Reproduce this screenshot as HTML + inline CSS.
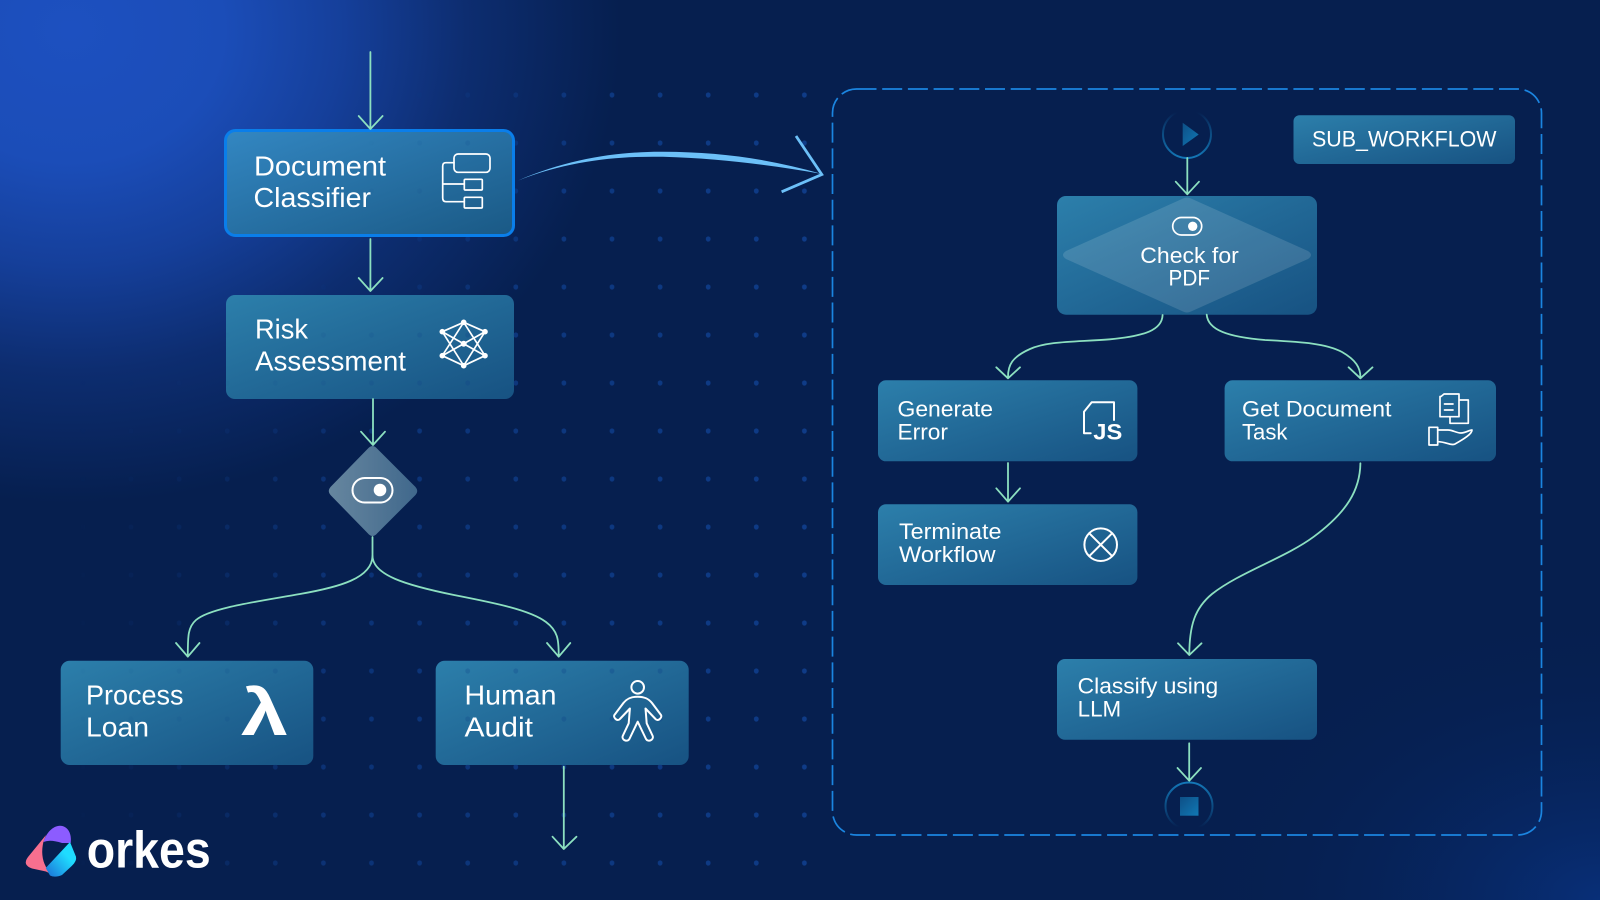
<!DOCTYPE html>
<html><head><meta charset="utf-8"><style>
html,body{margin:0;padding:0;width:1600px;height:900px;overflow:hidden;background:#061f4f}
svg{display:block;position:absolute;left:0;top:0}
text{font-family:"Liberation Sans",sans-serif;fill:#fff}
.a{font-size:28px;letter-spacing:0}
.b{font-size:22px}
.c{fill:none;stroke:#8ce0c0;stroke-width:1.8;stroke-linecap:round;stroke-linejoin:round}
.i{fill:none;stroke:#fff;stroke-width:1.7;stroke-linecap:round;stroke-linejoin:round}
</style></head><body>
<svg width="1600" height="900" viewBox="0 0 1600 900" xmlns="http://www.w3.org/2000/svg">
<defs>
<radialGradient id="bg1" gradientUnits="userSpaceOnUse" cx="70" cy="30" r="550" gradientTransform="translate(70 30) scale(1 .86) translate(-70 -30)">
<stop offset="0" stop-color="#1d50c0"/><stop offset=".28" stop-color="#1b4db8"/><stop offset=".5" stop-color="#153f9a"/><stop offset=".72" stop-color="#0d2d70"/><stop offset="1" stop-color="#061f4f"/></radialGradient>
<radialGradient id="bg2" gradientUnits="userSpaceOnUse" cx="1600" cy="900" r="420" gradientTransform="translate(1600 900) scale(1 .7) translate(-1600 -900)">
<stop offset="0" stop-color="#082f78"/><stop offset="1" stop-color="#061f4f" stop-opacity="0"/></radialGradient>
<linearGradient id="n" x1="0" y1="0" x2="1" y2="1"><stop offset="0" stop-color="#2c7fab"/><stop offset="1" stop-color="#175282"/></linearGradient>
<linearGradient id="n2" x1="0" y1="0" x2="1" y2="1"><stop offset="0" stop-color="#3387c2"/><stop offset="1" stop-color="#1a5985"/></linearGradient>
<linearGradient id="dg" x1="0" y1="0" x2="1" y2="0"><stop offset="0" stop-color="#66869f"/><stop offset="1" stop-color="#40688c"/></linearGradient>
<linearGradient id="pl" x1="0" y1="0" x2="0" y2="1"><stop offset=".05" stop-color="#1270ae" stop-opacity="0"/><stop offset=".5" stop-color="#0f5f98" stop-opacity=".7"/><stop offset="1" stop-color="#1478b8"/></linearGradient>
<linearGradient id="st" x1="0" y1="1" x2="0" y2="0"><stop offset=".05" stop-color="#1270ae" stop-opacity="0"/><stop offset=".5" stop-color="#0f5f98" stop-opacity=".7"/><stop offset="1" stop-color="#1478b8"/></linearGradient>
<linearGradient id="ic" x1="0" y1="0" x2="1" y2="1"><stop offset="0" stop-color="#0e4f86"/><stop offset="1" stop-color="#1078b4"/></linearGradient>
<linearGradient id="cy" x1="1" y1="0" x2="0" y2="1"><stop offset=".35" stop-color="#1fdcff"/><stop offset="1" stop-color="#1c6fd6"/></linearGradient>
<linearGradient id="fade" x1="0" y1="0" x2="1" y2="0"><stop offset="0" stop-color="#000"/><stop offset=".14" stop-color="#333"/><stop offset=".35" stop-color="#aaa"/><stop offset="1" stop-color="#fff"/></linearGradient>
<radialGradient id="hole" gradientUnits="userSpaceOnUse" cx="70" cy="30" r="520"><stop offset=".6" stop-color="#000"/><stop offset="1" stop-color="#000" stop-opacity="0"/></radialGradient>
<pattern id="dots" patternUnits="userSpaceOnUse" x="780.35" y="71" width="48.1" height="48"><ellipse cx="24.05" cy="24" rx="2.4" ry="2.6" fill="#0f3c88"/></pattern>
<mask id="m"><rect x="60" y="71" width="760" height="817" fill="url(#fade)"/><rect x="60" y="71" width="760" height="817" fill="url(#hole)"/></mask>
<clipPath id="cn"><rect x="226" y="295" width="288" height="104"/><rect x="60.7" y="660.7" width="252.6" height="104.3"/><rect x="435.7" y="660.7" width="253" height="104.3"/><rect x="225.5" y="130.5" width="288" height="105"/></clipPath>
</defs>
<rect width="1600" height="900" fill="#061f4f"/>
<rect width="800" height="640" fill="url(#bg1)"/>
<rect width="1600" height="900" fill="url(#bg2)"/>
<rect x="60" y="71" width="756" height="817" fill="url(#dots)" mask="url(#m)"/>

<!-- sub workflow border -->
<rect x="832.5" y="89" width="709" height="746" rx="24" fill="none" stroke="#1b85e0" stroke-width="1.7" stroke-dasharray="20 5.7"/>

<!-- nodes -->
<rect x="225.5" y="130.5" width="288" height="105" rx="10" fill="url(#n2)" stroke="#0a7eea" stroke-width="3"/>
<g fill="url(#n)">
<rect x="226" y="295" width="288" height="104" rx="9"/>
<rect x="60.7" y="660.7" width="252.6" height="104.3" rx="9"/>
<rect x="435.7" y="660.7" width="253" height="104.3" rx="9"/>
<rect x="1293.5" y="115.3" width="221.5" height="48.7" rx="6"/>
<rect x="1057" y="196" width="260" height="118.7" rx="9"/>
<rect x="878" y="380.3" width="259.4" height="81" rx="8"/>
<rect x="1224.6" y="380.3" width="271.4" height="81" rx="8"/>
<rect x="878" y="504.3" width="259.4" height="80.7" rx="8"/>
<rect x="1057" y="659" width="260" height="80.7" rx="8"/>
</g>
<g clip-path="url(#cn)" opacity=".3"><rect x="60" y="71" width="756" height="817" fill="url(#dots)" mask="url(#m)"/></g>
<path d="M1183 198.500Q1187 196.500 1191 198.500L1308 251Q1314 255 1308 259L1191 311.500Q1187 313.500 1183 311.500L1066 259Q1060 255 1066 251Z" fill="#fff" fill-opacity=".13"/>
<path d="M367.500 449Q372.500 443 377.500 449L415.500 487Q419 491 415.500 495L377.500 533Q372.500 539 367.500 533L330.500 495Q327 491 330.500 487Z" fill="url(#dg)"/>

<!-- start / end -->
<circle cx="1187" cy="134" r="24" fill="none" stroke="url(#pl)" stroke-width="2"/>
<path d="M1182.700 122.700L1198.700 134.500L1182.700 146Z" fill="url(#ic)"/>
<circle cx="1189" cy="806" r="23.500" fill="none" stroke="url(#st)" stroke-width="2"/>
<rect x="1180" y="797" width="18.500" height="18.700" fill="url(#ic)"/>

<!-- connectors -->
<g class="c">
<path d="M370.400 52L370.400 128M358.700 116L370.400 129L382.600 116"/>
<path d="M370.400 239L370.400 290M358.700 278L370.400 291L382.600 278"/>
<path d="M373 399L373 444M361 431.700L373 445L385 431.700"/>
<path d="M372.500 537L372.500 556C372 578 340 587 300 594C255 602 210 608 196 620C188 627 187.800 636 187.800 655M176 643L187.800 656.700L199.500 643"/>
<path d="M372.500 556C373 575 405 585 454 595C495 603 530 610 546 622C558 631 558.700 640 558.700 655M547 643L558.700 656.700L570.300 643"/>
<path d="M563.800 766.700L563.800 848M552.500 836.700L563.800 849L576.500 836.700"/>
<path d="M1187.300 158L1187.300 193M1175.700 181.700L1187.300 194.300L1199 181.700"/>
<path d="M1162.600 315C1162 330 1145 336 1110 339.300C1075 342 1048 341 1030 349C1012 357 1008 365 1008 377M996.300 367.300L1008 378.300L1020 367.300"/>
<path d="M1206.700 314.700C1208 330 1228 337 1265 340C1300 342 1325 343 1342 352C1356 360 1360.400 368 1360.400 377M1348.600 367.300L1360.400 378.300L1372.500 367.300"/>
<path d="M1008 463L1008 500M996.300 488.300L1008 501.700L1020 488.300"/>
<path d="M1360.400 463.300C1360 490 1347 512 1313.800 536.700C1285 558 1240 572 1212 594C1195 608 1189.500 625 1189.300 654M1178 643.300L1189.300 655L1201.500 643.300"/>
<path d="M1189.200 743.300L1189.200 779M1177.500 768L1189.200 780.700L1201 768"/>
</g>

<!-- blue arrow -->
<path d="M518 180.600C570 158 620 151.500 663 151.800C720 152 770 159 822 174C770 165 720 158.500 663 156.800C620 156 570 160 518 180.600Z" fill="#6cc0f8"/>
<path d="M796 136L821.800 174.500L781.600 191.800" fill="none" stroke="#6cc0f8" stroke-width="2.800" stroke-linejoin="miter"/>

<!-- labels -->
<g class="a">
<text x="254" y="175.500" textLength="132" lengthAdjust="spacingAndGlyphs">Document</text>
<text x="253.500" y="207" textLength="117.500" lengthAdjust="spacingAndGlyphs">Classifier</text>
<text x="255" y="338.700" textLength="53" lengthAdjust="spacingAndGlyphs">Risk</text>
<text x="255" y="370.700" textLength="151" lengthAdjust="spacingAndGlyphs">Assessment</text>
<text x="86" y="704.300" textLength="97.500" lengthAdjust="spacingAndGlyphs">Process</text>
<text x="86" y="736.700" textLength="63" lengthAdjust="spacingAndGlyphs">Loan</text>
<text x="464.500" y="704.300" textLength="92" lengthAdjust="spacingAndGlyphs">Human</text>
<text x="464.500" y="736.700" textLength="68.500" lengthAdjust="spacingAndGlyphs">Audit</text>
</g>
<g class="b">
<text x="1312" y="146.700" textLength="184.500" lengthAdjust="spacingAndGlyphs">SUB_WORKFLOW</text>
<text x="1140.300" y="263" textLength="98.500" lengthAdjust="spacingAndGlyphs">Check for</text>
<text x="1168.500" y="285.700" textLength="41.500" lengthAdjust="spacingAndGlyphs">PDF</text>
<text x="897.500" y="416.700" textLength="95.500" lengthAdjust="spacingAndGlyphs">Generate</text>
<text x="897.500" y="439.700" textLength="50.500" lengthAdjust="spacingAndGlyphs">Error</text>
<text x="1242" y="416.700" textLength="149.500" lengthAdjust="spacingAndGlyphs">Get Document</text>
<text x="1242" y="439.700" textLength="45.500" lengthAdjust="spacingAndGlyphs">Task</text>
<text x="899" y="539" textLength="102.500" lengthAdjust="spacingAndGlyphs">Terminate</text>
<text x="899" y="562" textLength="96.500" lengthAdjust="spacingAndGlyphs">Workflow</text>
<text x="1077.700" y="693.700" textLength="140.500" lengthAdjust="spacingAndGlyphs">Classify using</text>
<text x="1077.700" y="716.400" textLength="43.500" lengthAdjust="spacingAndGlyphs">LLM</text>
</g>

<!-- icons -->
<g class="i">
<rect x="454" y="154" width="36" height="18.300" rx="4"/>
<rect x="464.300" y="179.300" width="18" height="10.700" rx="1"/>
<rect x="464.300" y="197.300" width="18" height="10.700" rx="1"/>
<path d="M454 162.700H446Q442.700 162.700 442.700 166V198Q442.700 201.700 446 201.700H464.300M442.700 184H464.300"/>
<path d="M463.700 322.300L442.300 331.700L463.700 365.700L485 331.700L463.700 322.300L442.300 355.700L463.700 365.700L485 355.700L463.700 322.300M442.300 331.700L485 355.700M485 331.700L442.300 355.700"/>
<rect x="352.500" y="478" width="40" height="24.500" rx="12.200" stroke-width="2"/>
<rect x="1172.700" y="217.500" width="29" height="17.500" rx="8.700"/>
<circle cx="1100.700" cy="544.700" r="16.300" stroke-width="2"/>
<path d="M1089.300 533.300L1112.100 556.100M1112.100 533.300L1089.300 556.100" stroke-width="2"/>
<path d="M1090.700 433.300H1084V411.700L1091.700 402.300H1114V420" stroke-width="2"/>
<path d="M1441 396.500L1444 394H1459V416.700H1440V396.500ZM1459 400H1468.300V423.300H1450V416.700M1444.500 404H1453M1444.500 410H1453"/>
<rect x="1429" y="427.300" width="8.700" height="17.700"/>
<path d="M1437.700 430H1448C1453 430 1456 433 1461 433C1466 433 1469 430 1472 430C1472 434 1464 439 1455 444C1451 446 1446 441.700 1437.700 441.700"/>
<circle cx="637.700" cy="687.300" r="6.300" stroke-width="2"/>
<path d="M637.700 696.700C644 696.700 648.300 698.300 652 703L661 715C662.500 717.500 658 722 655.500 719L645.500 708.500L646.700 723.300L652.700 736C654 740 648 742.500 646 739L637.700 721.700L629.400 739C627.400 742.500 621.400 740 622.700 736L628.700 723.300L629.900 708.500L619.900 719C617.400 722 612.900 717.500 614.400 715L623.400 703C627.100 698.300 631.400 696.700 637.700 696.700Z" stroke-width="2"/>
</g>
<g fill="#fff">
<circle cx="380" cy="490" r="6.300"/>
<circle cx="1192.700" cy="226.300" r="4.700"/>
<circle cx="463.700" cy="322.300" r="2.800"/><circle cx="442.300" cy="331.700" r="2.800"/><circle cx="485" cy="331.700" r="2.800"/><circle cx="463.700" cy="343.700" r="3"/><circle cx="442.300" cy="355.700" r="2.800"/><circle cx="485" cy="355.700" r="2.800"/><circle cx="463.700" cy="365.700" r="2.800"/>
</g>
<text x="241" y="735" font-size="66" font-weight="700" textLength="47" lengthAdjust="spacingAndGlyphs">λ</text>
<text x="1093.300" y="439.300" font-size="22.500" font-weight="700" textLength="29" lengthAdjust="spacingAndGlyphs">JS</text>

<!-- logo -->
<path d="M46 835L28 857Q22 865 32 868.500L46 871.500L56 876.500L46 867Q40 856 43.500 841.500Z" fill="#f76f8f"/>
<path d="M43.500 842C46 833 53 825.700 60 825.700C68 825.700 72 834 70.700 843L62 843Q50 839 43.500 842Z" fill="#8c5cff"/>
<path d="M70 842L76 856.700Q77 861 71.700 866L62 875Q55 878 50 875.500L45.700 868Z" fill="url(#cy)"/>
<text x="86.700" y="867.700" font-size="52" font-weight="700" textLength="124" lengthAdjust="spacingAndGlyphs">orkes</text>
</svg>
</body></html>
